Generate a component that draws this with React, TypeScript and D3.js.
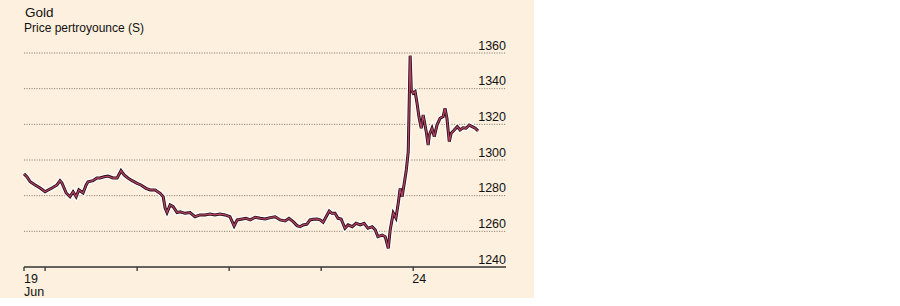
import React, { useEffect, useRef } from 'react'
import * as d3 from 'd3'

// gold, $ per troy ounce, 19-24 June
const priceTicks = [1240, 1260, 1280, 1300, 1320, 1340, 1360]
const dayTicks = [20, 21, 22, 23, 24]
const hours = [
  0, 0.8, 1.6, 2.9, 4.2, 5.5, 6.3, 7.3, 8.6, 9.4, 9.9, 11, 12, 12.8, 13.6, 14.3, 15.4, 16.2, 16.7, 18,
  19, 19.8, 20.9, 21.9, 23.2, 24.3, 25.3, 26.1, 27.1, 28.2, 29.5, 30.5, 31.8, 32.9, 34.2, 35.5, 36.3, 36.8, 37.3, 38.1,
  38.9, 39.9, 40.7, 42, 43.3, 44.6, 45.9, 47.2, 48.5, 49.8, 51.1, 52.4, 53.7, 54.8, 55.6, 56.6, 57.9, 59, 60.3, 61.6,
  62.9, 64.2, 65.5, 66.8, 68.1, 69.1, 70.2, 71.2, 72, 72.8, 73.8, 74.6, 75.4, 76.4, 77.2, 78, 78.8, 79.6, 80.3, 81.1,
  81.9, 82.7, 83.7, 84.5, 85.6, 86.6, 87.7, 88.7, 89.7, 90.8, 91.6, 92.3, 93.4, 94.2, 95, 95.5, 96.3, 97, 97.6, 98.1,
  98.6, 99.1, 99.7, 100.2, 100.7, 101, 101.5, 102, 102.5, 103, 103.6, 104.1, 104.9, 105.4, 105.7, 106.4, 107, 107.7, 108.5, 109.3,
  109.8, 110.3, 110.9, 111.4, 112.2, 113, 113.7, 114.5, 115.3, 116.1, 116.9, 117.7, 118.4
]
const prices = [
  1292.2, 1290.5, 1287.8, 1286, 1284.3, 1282.2, 1283.2, 1284.3, 1286, 1288.4, 1287.1, 1281.5, 1279.4, 1282.2, 1279.4, 1283.2, 1281.5, 1286, 1287.8, 1288.4,
  1289.9, 1289.9, 1290.6, 1291, 1289.9, 1289.9, 1294, 1291.6, 1289.9, 1288.4, 1286.9, 1286, 1284.1, 1283.2, 1283.2, 1281.3, 1279.4, 1273.1, 1270.5, 1274.8,
  1273.8, 1270.5, 1271, 1270.1, 1270.5, 1268.2, 1269.2, 1269.2, 1269.7, 1269.2, 1269.7, 1269.2, 1268.2, 1263, 1266.4, 1266.8, 1267.3, 1266.4, 1267.9, 1267.3,
  1266.9, 1267.7, 1268.2, 1266.4, 1265.8, 1267.3, 1265.4, 1263.2, 1262.6, 1263.6, 1264, 1266.4, 1266.8, 1266.9, 1266.4, 1265.1, 1268.2, 1271.4, 1270.1, 1270.1,
  1267.3, 1266.9, 1261.7, 1263.6, 1262.6, 1264.5, 1263.6, 1264.5, 1261.7, 1262.6, 1260.8, 1257, 1257.9, 1257, 1250.5, 1260.8, 1270.3, 1267.5, 1275.9, 1284.1,
  1279.4, 1286, 1294.4, 1304.5, 1358.5, 1339.3, 1337.4, 1338.3, 1331.8, 1324.3, 1317.8, 1325.2, 1315.9, 1308.4, 1314, 1317.8, 1313.1, 1319.6, 1323.4, 1324.3,
  1329, 1323.4, 1310.3, 1315, 1316.8, 1318.7, 1316.8, 1318.1, 1317.8, 1319.6, 1318.7, 1317.8, 1316.3
]

const W = 900
const H = 306
const start = new Date(2016, 5, 19, 18, 30)
const end = new Date(2016, 5, 25, 0, 12)
const font = 'Arial, "Liberation Sans", sans-serif'

export default function App() {
  const ref = useRef<SVGSVGElement>(null)

  useEffect(() => {
    const svg = d3.select(ref.current)
    svg.selectAll('*').remove()

    const x = d3.scaleTime().domain([start, end]).range([24, 506])
    const y = d3.scaleLinear().domain([1240, 1360]).range([267, 53])

    svg.append('rect').attr('width', 534).attr('height', 298).attr('fill', '#fdf0de')

    svg.append('text').text('Gold').attr('x', 25).attr('y', 17)
      .attr('font-size', 13.5).attr('font-family', font).attr('fill', '#111')
    svg.append('text').text('Price pertroyounce (S)').attr('x', 24).attr('y', 32)
      .attr('font-size', 12).attr('font-family', font).attr('fill', '#111')

    // dotted grid + labels
    const grid = svg.append('g')
    grid.selectAll('line').data(priceTicks.slice(1)).enter().append('line')
      .attr('x1', 24).attr('x2', 506)
      .attr('y1', d => y(d)).attr('y2', d => y(d))
      .attr('stroke', '#8c8478').attr('stroke-width', 1).attr('stroke-dasharray', '1.2,1.3')
    grid.selectAll('text').data(priceTicks).enter().append('text')
      .text(d => d)
      .attr('x', 506).attr('y', d => y(d) - 3.5)
      .attr('text-anchor', 'end')
      .attr('font-size', 12.5).attr('font-family', font).attr('fill', '#111')

    // time axis
    const axis = svg.append('g')
    axis.append('line').attr('x1', 24).attr('x2', 506).attr('y1', y(1240)).attr('y2', y(1240))
      .attr('stroke', '#333').attr('stroke-width', 1.6)
    const tickDates = [start, ...dayTicks.map(d => new Date(2016, 5, d))]
    axis.selectAll('.tk').data(tickDates).enter().append('line')
      .attr('x1', d => x(d)).attr('x2', d => x(d))
      .attr('y1', y(1240)).attr('y2', y(1240) + 4)
      .attr('stroke', '#333').attr('stroke-width', 1.3)
    const lab = axis.append('text').attr('font-size', 12.5).attr('font-family', font).attr('fill', '#111')
    lab.append('tspan').attr('x', x(start)).attr('y', 283).text('19')
    lab.append('tspan').attr('x', x(start)).attr('y', 296).text('Jun')
    axis.append('text').text('24').attr('x', x(new Date(2016, 5, 24)) - 1).attr('y', 283)
      .attr('font-size', 12.5).attr('font-family', font).attr('fill', '#111')

    const pts = hours.map((h, i) => [new Date(+start + h * 3600e3), prices[i]] as [Date, number])
    const line = d3.line<[Date, number]>().x(d => x(d[0])).y(d => y(d[1]))
    const g = svg.append('g').attr('fill', 'none').attr('stroke-linejoin', 'miter')
    g.append('path').datum(pts).attr('d', line).attr('stroke', '#fff').attr('stroke-width', 5.2)
    g.append('path').datum(pts).attr('d', line).attr('stroke', '#2a0c14').attr('stroke-width', 3)
    g.append('path').datum(pts).attr('d', line).attr('stroke', '#b04462').attr('stroke-width', 1.3)
  }, [])

  return (
    <svg ref={ref} width={W} height={H}
      style={{ position: 'absolute', left: 0, top: 0, background: '#fff' }} />
  )
}
